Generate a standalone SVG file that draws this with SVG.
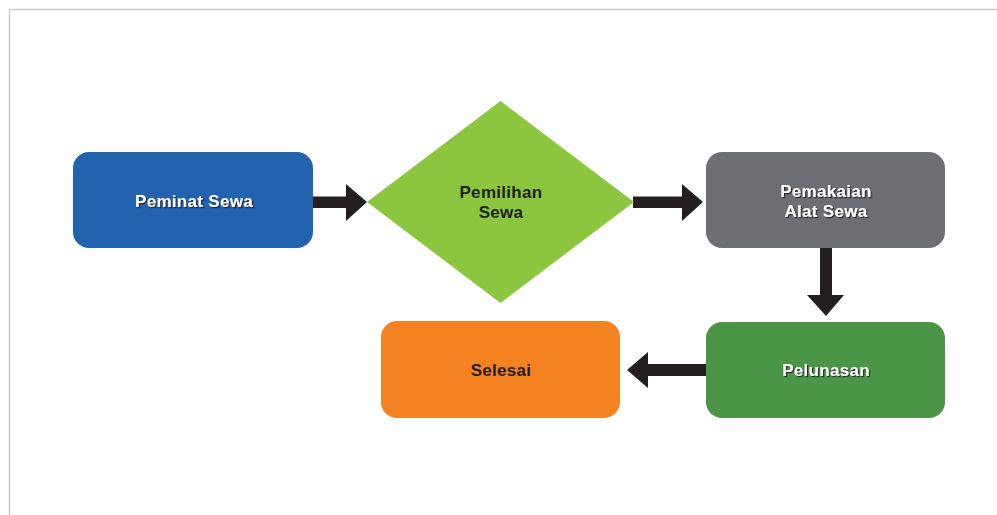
<svg xmlns="http://www.w3.org/2000/svg" width="997" height="515" viewBox="0 0 997 515">
<defs>
<style>
.lbl{font-family:"Liberation Sans",Arial,sans-serif;font-weight:bold;font-size:17px;letter-spacing:0.3px;text-anchor:middle}
.w{fill:#ffffff;filter:url(#sh)}
.d{fill:#231f20}
.arr{fill:#231f20}
</style>
<filter id="sh" x="-10%" y="-30%" width="120%" height="160%">
<feDropShadow dx="1.2" dy="1.2" stdDeviation="0.4" flood-color="#231f20" flood-opacity="0.9"/>
</filter>
</defs>
<rect width="997" height="515" fill="#ffffff"/>
<path d="M9.5 515 V9.5 H997" fill="none" stroke="#c9c9c9" stroke-width="1.5"/>
<g id="connectors">
<polygon class="arr" points="313,196.5 346,196.5 346,184 367,202 346,221 346,208 313,208"/>
<polygon class="arr" points="633,196.5 682,196.5 682,184 703,202 682,221 682,208 633,208"/>
<polygon class="arr" points="820,248 832,248 832,295 844,295 826,316 807,295 820,295"/>
<polygon class="arr" points="706,364 648,364 648,352 627,370 648,388 648,376 706,376"/>
</g>
<g id="peminat">
<rect x="73" y="152" width="240" height="96" rx="16" fill="#2163ae"/>
<text class="lbl w" x="194" y="207">Peminat Sewa</text>
</g>
<g id="pemilihan">
<polygon points="500.5,101 634,202 500.5,303 367,202" fill="#8cc63f"/>
<text class="lbl d" x="501" y="198">Pemilihan</text>
<text class="lbl d" x="501" y="218">Sewa</text>
</g>
<g id="pemakaian">
<rect x="706" y="152" width="239" height="96" rx="16" fill="#6d6e71"/>
<text class="lbl w" x="826" y="197">Pemakaian</text>
<text class="lbl w" x="826" y="217">Alat Sewa</text>
</g>
<g id="pelunasan">
<rect x="706" y="322" width="239" height="96" rx="16" fill="#4a9646"/>
<text class="lbl w" x="826" y="376">Pelunasan</text>
</g>
<g id="selesai">
<rect x="381" y="321" width="239" height="97" rx="16" fill="#f58220"/>
<text class="lbl d" x="501" y="376">Selesai</text>
</g>
</svg>
